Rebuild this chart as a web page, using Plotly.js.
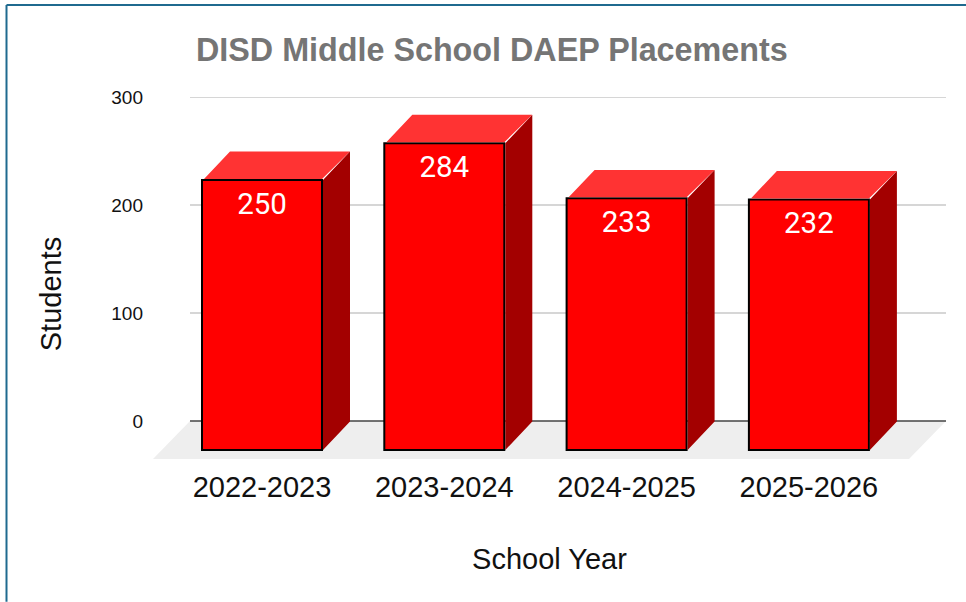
<!DOCTYPE html>
<html><head><meta charset="utf-8">
<script src="https://cdn.plot.ly/plotly-3.0.1.min.js"></script>
<style>html,body{margin:0;padding:0;background:#fff;overflow:hidden}#c{width:966px;height:602px}</style>
</head><body><div id="c"></div>
<script>
var categories = ["2022-2023","2023-2024","2024-2025","2025-2026"];
var students = [250,284,233,232];
var positions = [0,1,2,3];
var yTicks = [0,100,200,300];

var W=966,H=602,L=153,R=946,T=96.5,ZERO=421,B=491;
var pxPerUnit=(ZERO-T)/300, yMin=-(B-ZERO)/pxPerUnit, yMax=300;
var xPerIdx=182.3, xMin=(L-262)/xPerIdx, xMax=(R-262)/xPerIdx;
var barW=120/xPerIdx, depthX=28/xPerIdx, depthY=28.5/pxPerUnit, base=-29/pxPerUnit;
var nudgeX=1/xPerIdx, nudgeY=1/pxPerUnit;

var topX=[],topY=[],sideX=[],sideY=[];
positions.forEach(function(p,i){
  var x0=p-barW/2, x1=p+barW/2, yT=base+students[i];
  topX.push(x0+2*nudgeX,x0+depthX,x1+depthX,x1,null);
  topY.push(yT+nudgeY,yT+depthY,yT+depthY,yT+nudgeY,null);
  sideX.push(x1+nudgeX,x1+depthX,x1+depthX,x1+nudgeX,null);
  sideY.push(yT,yT+depthY,base+depthY,base,null);
});

var front={type:'bar',x:positions,y:students,base:positions.map(function(){return base;}),width:barW,
  marker:{color:'#ff0000',line:{color:'#000000',width:2}},hoverinfo:'skip',showlegend:false};
var tops={type:'scatter',mode:'none',x:topX,y:topY,fill:'toself',fillcolor:'#ff3333',hoverinfo:'skip',showlegend:false};
var sides={type:'scatter',mode:'none',x:sideX,y:sideY,fill:'toself',fillcolor:'#a30000',hoverinfo:'skip',showlegend:false};
var labels={type:'scatter',mode:'text',x:positions,y:students.map(function(v){return base+v-24.5;}),
  text:students.map(String),textposition:'middle center',textfont:{family:'Roboto, sans-serif',size:29.5,color:'#ffffff'},
  hoverinfo:'skip',showlegend:false};

function px(x){return (x-L)/(R-L);}
function py(y){return (B-y)/(B-T);}
var floorPath='M'+px(153)+','+py(459)+' L'+px(190)+','+py(421)+' L'+px(946)+','+py(421)+' L'+px(909)+','+py(459)+' Z';
var shapes=[{type:'path',xref:'paper',yref:'paper',path:floorPath,fillcolor:'#eeeeee',line:{width:0},layer:'below'}];
yTicks.forEach(function(v){
  shapes.push({type:'line',xref:'paper',yref:'y',x0:px(190),x1:1,y0:v,y1:v,layer:'below',
    line:{color:v===0?'#444444':'#c8c8c8',width:1.5}});
});
shapes.push({type:'line',xref:'paper',yref:'paper',x0:px(6.5),y0:py(602),x1:px(6.5),y1:py(4.5),line:{color:'#1f6a8f',width:2},layer:'above'});
shapes.push({type:'line',xref:'paper',yref:'paper',x0:px(6.5),y0:py(4.5),x1:px(966),y1:py(4.5),line:{color:'#1f6a8f',width:2},layer:'above'});

var layout={
  width:W,height:H,paper_bgcolor:'#ffffff',plot_bgcolor:'rgba(0,0,0,0)',
  margin:{l:L,r:W-R,t:T,b:H-B,pad:0},
  showlegend:false,
  title:{text:'<b>DISD Middle School DAEP Placements</b>',xref:'container',yref:'container',x:196/W,xanchor:'left',y:1-50/H,yanchor:'middle',
    font:{family:'Liberation Sans, Arial, sans-serif',size:32.3,color:'#757575'},automargin:false},
  xaxis:{type:'linear',range:[xMin,xMax],tickmode:'array',tickvals:positions,ticktext:categories,showgrid:false,zeroline:false,showline:false,
    ticks:'',ticklabelstandoff:-24,tickfont:{family:'Liberation Sans, Arial, sans-serif',size:29,color:'#111111'},
    title:{text:'School Year',font:{family:'Liberation Sans, Arial, sans-serif',size:29,color:'#111111'},standoff:46},automargin:false},
  yaxis:{range:[yMin,yMax],tickmode:'array',tickvals:yTicks,ticktext:yTicks.map(String),showgrid:false,
    zeroline:false,showline:false,ticks:'',ticklabelstandoff:9,
    tickfont:{family:'Liberation Sans, Arial, sans-serif',size:19,color:'#111111'},
    title:{text:'Students',font:{family:'Liberation Sans, Arial, sans-serif',size:29,color:'#111111'},standoff:41},automargin:false},
  shapes:shapes
};
Plotly.newPlot('c',[front,tops,sides,labels],layout,{displayModeBar:false,staticPlot:true});
</script></body></html>
